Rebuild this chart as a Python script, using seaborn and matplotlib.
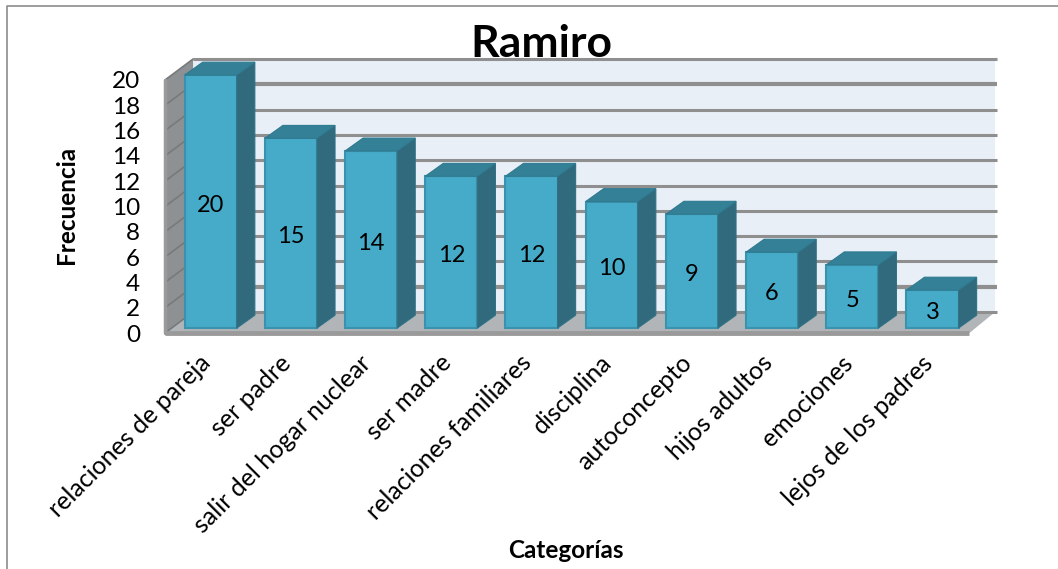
import matplotlib
matplotlib.use("Agg")
import matplotlib.pyplot as plt
from matplotlib.patches import Polygon, Rectangle
from matplotlib.transforms import ScaledTranslation
import pandas as pd
import seaborn as sns

categorias = ["relaciones de pareja", "ser padre", "salir del hogar nuclear", "ser madre",
              "relaciones familiares", "disciplina", "autoconcepto", "hijos adultos",
              "emociones", "lejos de los padres"]
frecuencia = [20, 15, 14, 12, 12, 10, 9, 6, 5, 3]
ticks = list(range(0, 21, 2))

sns.set_theme(style="white")
plt.rcParams["font.family"] = ["Lato", "DejaVu Sans"]

W, H = 1058, 569
fig = plt.figure(figsize=(W / 100, H / 100), dpi=100)
# front plane of the fake 3d box
ax = fig.add_axes([165 / W, 1 - 333 / H, 802 / W, 253 / H])

df = pd.DataFrame({"categoria": categorias, "frecuencia": frecuencia})
sns.barplot(data=df, x="categoria", y="frecuencia", color="#46ABC8", saturation=1,
            width=0.65, ax=ax, zorder=5)
ax.set_xlim(-0.5, 9.5)
ax.set_ylim(0, 20)

# depth of the box and of the bars, in data units
box_dx, box_dy = 0.35, 1.66
bar_dx, bar_dy = 0.225, 1.02
shift_x, shift_y = 0.07, 0.39

# walls
x0, x1 = -0.5, 9.53
ax.add_patch(Rectangle((x0 + box_dx, box_dy), x1 - x0 - 0.03, 20, fc="#E8EFF6", ec="none",
                       clip_on=False, zorder=1))
ax.add_patch(Polygon([(x0, 0), (x1, 0), (x1 + box_dx - 0.03, box_dy), (x0 + box_dx, box_dy)],
                     fc="#B2B5B8", ec="none", clip_on=False, zorder=2))
ax.add_patch(Polygon([(x0, 0), (x0 + box_dx, box_dy), (x0 + box_dx, 20 + box_dy), (x0, 20)],
                     fc="#8E9194", ec="none", clip_on=False, zorder=2))
for t in ticks:
    lw = 3 if t in (2, 18) else 2.2
    ax.plot([x0 + box_dx, x1 + box_dx], [t + box_dy] * 2, color="#8F8F8F", lw=lw,
            clip_on=False, zorder=3, solid_capstyle="butt")
    ax.plot([x0, x0 + box_dx], [t, t + box_dy], color="#77797B", lw=1.2,
            clip_on=False, zorder=3)
ax.plot([x0, x1], [0, 0], color="#9A9A9A", lw=3.5, clip_on=False, zorder=4,
        solid_capstyle="butt")
ax.plot([x0, x0], [0, 20], color="#9A9A9A", lw=2.5, clip_on=False, zorder=4)

# bars: seaborn draws the front face, side and top come from it
for bar, v in zip(ax.patches[:len(frecuencia)], frecuencia):
    bar.set_x(bar.get_x() + shift_x)
    bar.set_y(shift_y)
    bar.set_edgecolor("#3A93AE")
    bar.set_linewidth(1.5)
    bar.set_clip_on(False)
    l = bar.get_x()
    r = l + bar.get_width()
    b = shift_y
    t = b + v
    ax.add_patch(Polygon([(r, b), (r + bar_dx, b + bar_dy), (r + bar_dx, t + bar_dy), (r, t)],
                         fc="#31697D", ec="#2F7286", lw=0.8, clip_on=False, zorder=5))
    ax.add_patch(Polygon([(l, t), (r, t), (r + bar_dx, t + bar_dy), (l + bar_dx, t + bar_dy)],
                         fc="#348097", ec="#2F7A90", lw=0.8, clip_on=False, zorder=5))
    ax.text((l + r) / 2, b + v / 2 - 0.3, str(v), ha="center", va="center", fontsize=17,
            color="black", zorder=6)

ax.set_yticks(ticks)
ax.set_yticklabels([str(t) for t in ticks], fontsize=17.5, color="black")
ax.set_xticks(range(len(categorias)))
ax.set_xticklabels(categorias, rotation=45, ha="right", rotation_mode="anchor",
                   fontsize=18, color="black")
ax.tick_params(axis="y", length=0, pad=18)
ax.tick_params(axis="x", length=0, pad=13)
# long labels sit a bit left of the tick
nudge = ScaledTranslation(-6 / 100, 0, fig.dpi_scale_trans)
for lab in ax.get_xticklabels():
    lab.set_transform(lab.get_transform() + nudge)
ax.set_xlabel("")
ax.set_ylabel("")
sns.despine(ax=ax, left=True, bottom=True)

fig.text(541 / W, 1 - 44 / H, "Ramiro", ha="center", va="center", fontsize=32,
         fontweight="bold", color="black")
fig.text(67 / W, 1 - 205 / H, "Frecuencia", rotation=90, ha="center", va="center",
         fontsize=17.5, fontweight="bold", color="black")
fig.text(566 / W, 1 - 550 / H, "Categorías", ha="center", va="center", fontsize=17.5,
         fontweight="bold", color="black")

# chart frame
fig.add_artist(plt.Line2D([7 / W, 7 / W, 1], [0, 1 - 6 / H, 1 - 6 / H], color="#8C8C8C", lw=1.2))

fig.savefig("out.png", dpi=100)
